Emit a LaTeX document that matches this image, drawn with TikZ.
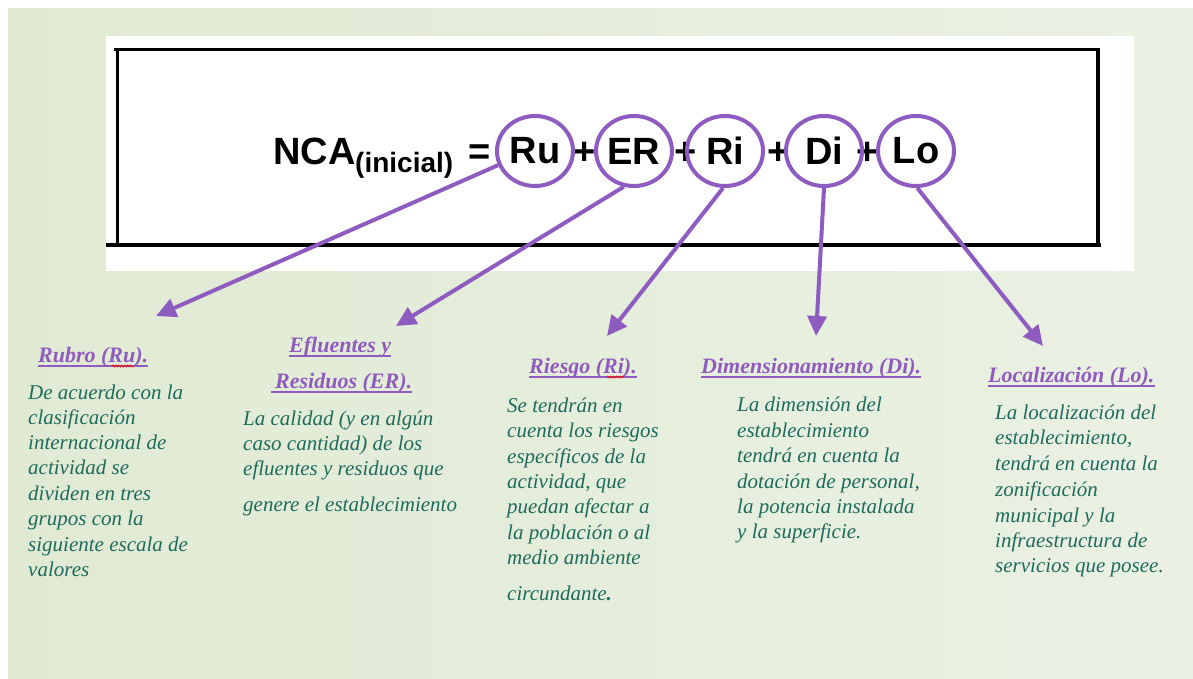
\documentclass[tikz,border=0pt]{standalone}
\usepackage{fontspec}
\setmainfont{Liberation Serif}
\newfontfamily\eqfont{Liberation Sans}
\usetikzlibrary{shapes.geometric,arrows.meta,decorations.pathmorphing}
\definecolor{bgA}{HTML}{E0EAD3}
\definecolor{bgB}{HTML}{EAF1E3}
\definecolor{ringc}{HTML}{8E5CC0}
\definecolor{titc}{HTML}{8F5BBE}
\definecolor{bodyc}{HTML}{1E6B5C}
\begin{document}
\begin{tikzpicture}[x=1pt,y=-1pt,
  eq/.style={font=\eqfont\bfseries\fontsize{38}{40}\selectfont, inner sep=0pt},
  sub/.style={font=\eqfont\bfseries\fontsize{28}{30}\selectfont, inner sep=0pt},
  ring/.style={ellipse, draw=ringc, line width=4pt, minimum width=76pt, minimum height=70pt, inner sep=0pt, font=\eqfont\bfseries\fontsize{38}{40}\selectfont},
  arr/.style={draw=ringc, line width=4pt, -{Triangle[length=20pt,width=19pt]}},
  ttl/.style={font=\fontsize{22}{24}\selectfont\bfseries\itshape, text=titc, inner sep=0pt, anchor=base west},
  ul/.style={draw=titc, line width=1.2pt},
  body/.style={font=\fontsize{21}{24}\selectfont\itshape, text=bodyc, inner sep=0pt, anchor=base west},
  frame/.style={draw=black, line cap=rect},
  squig/.style={draw=red, line width=0.7pt, decorate, decoration={zigzag, segment length=3pt, amplitude=1pt}}
]
\useasboundingbox (0,0) rectangle (1193,679);
\fill[white] (0,0) rectangle (1193,679);
\shade[left color=bgA,right color=bgB] (8,9) rectangle (1193,679);
\fill[white] (106,36) rectangle (1134,271);
% frame
\draw[frame, line width=3pt] (115,50) -- (1098,50);
\draw[frame, line width=3pt] (117,50) -- (117,242);
\draw[frame, line width=4pt] (108,245) -- (1099,245);
\draw[frame, line width=4pt] (1098,50) -- (1098,245);
% equation
\node[eq, anchor=base west] (nca) at (273,165) {NCA};
\node[sub, anchor=base west] (ini) at (355,173) {(inicial)};
\node[eq, anchor=base] (eqs) at (479.5,165) {=};
\node[eq, anchor=base] (p1) at (585,165) {+};
\node[eq, anchor=base] (p2) at (686,165) {+};
\node[eq, anchor=base] (p3) at (779,165) {+};
\node[eq, anchor=base] (p4) at (868,165) {+};
\node[ring] (ru) at (535,151) {Ru};
\node[ring] (er) at (634,151) {ER};
\node[ring] (ri) at (725,151) {Ri};
\node[ring] (di) at (824,151) {Di};
\node[ring] (lo) at (916,151) {Lo};
% arrow tips
\coordinate (tru) at (156,316);
\coordinate (ter) at (396,326);
\coordinate (tri) at (607,336);
\coordinate (tdi) at (816,336);
\coordinate (tlo) at (1043,346);
\draw[arr] (ru.201) -- (tru);
\draw[arr] (er.254) -- (ter);
\draw[arr] (ri.267) -- (tri);
\draw[arr] (di.270) -- (tdi);
\draw[arr] (lo.272) -- (tlo);
% titles
\node[ttl] (tru1) at (38,362) {Rubro (Ru).};
\draw[ul] ([yshift=-4pt]tru1.base west) -- ([yshift=-4pt]tru1.base east);
\draw[squig] (112,366) -- (133,366);
\node[ttl] (ter1) at (289,352) {Efluentes y};
\draw[ul] ([yshift=-4pt]ter1.base west) -- ([yshift=-4pt]ter1.base east);
\node[ttl] (ter2) at (275,388) {Residuos (ER).};
\draw[ul] ([yshift=-4pt,xshift=-4pt]ter2.base west) -- ([yshift=-4pt]ter2.base east);
\node[ttl] (tri1) at (529,373) {Riesgo (Ri).};
\draw[ul] ([yshift=-4pt]tri1.base west) -- ([yshift=-4pt]tri1.base east);
\draw[squig] (607,377) -- (624,377);
\node[ttl] (tdi1) at (701,373) {Dimensionamiento (Di).};
\draw[ul] ([yshift=-4pt]tdi1.base west) -- ([yshift=-4pt]tdi1.base east);
\node[ttl] (tlo1) at (988,382) {Localización (Lo).};
\draw[ul] ([yshift=-4pt]tlo1.base west) -- ([yshift=-4pt]tlo1.base east);
% bodies
\foreach \y/\t [count=\i] in {399/De acuerdo con la, 424/clasificación, 449/internacional de, 474/actividad se, 500/dividen en tres, 525/grupos con la, 551/siguiente escala de, 576/valores}
  \node[body] (bru\i) at (28,\y) {\t};
\foreach \y/\t [count=\i] in {425/{La calidad (y en algún}, 450/{caso cantidad) de los}, 475/{efluentes y residuos que}, 511/{genere el establecimiento}}
  \node[body] (ber\i) at (243,\y) {\t};
\foreach \y/\t [count=\i] in {412/Se tendrán en, 437/cuenta los riesgos, 463/específicos de la, 488/{actividad, que}, 513/puedan afectar a, 539/la población o al, 564/medio ambiente, 600/circundante\textbf{.}}
  \node[body] (bri\i) at (507,\y) {\t};
\foreach \y/\t [count=\i] in {411/La dimensión del, 437/establecimiento, 462/tendrá en cuenta la, 488/{dotación de personal,}, 513/la potencia instalada, 538/y la superficie.}
  \node[body] (bdi\i) at (737,\y) {\t};
\foreach \y/\t [count=\i] in {419/La localización del, 444/{establecimiento,}, 470/tendrá en cuenta la, 496/zonificación, 522/municipal y la, 547/infraestructura de, 572/servicios que posee.}
  \node[body] (blo\i) at (995,\y) {\t};
\end{tikzpicture}
\end{document}
